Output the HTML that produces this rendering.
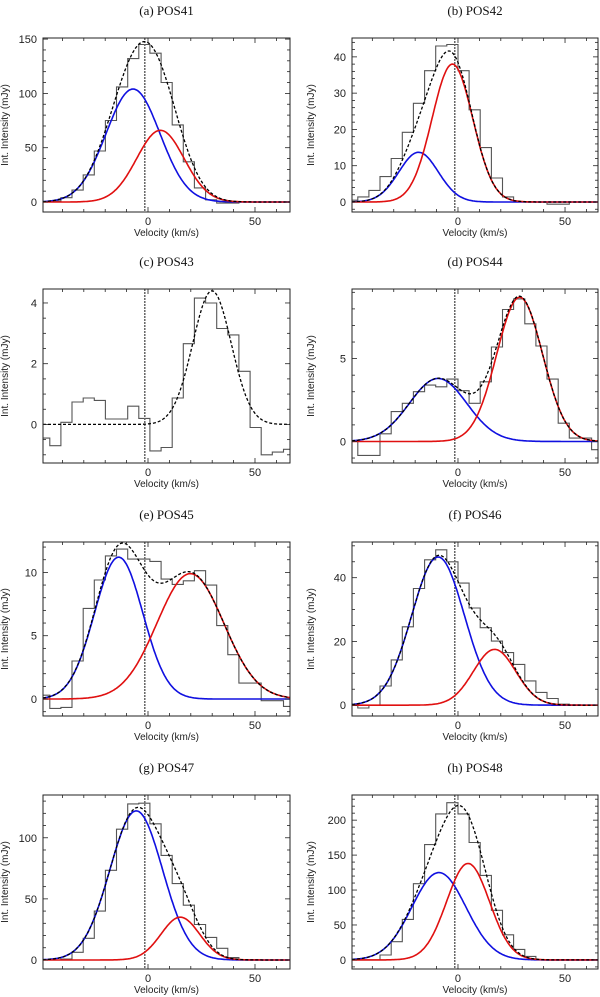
<!DOCTYPE html>
<html><head><meta charset="utf-8"><style>
body{margin:0;background:#fff;width:600px;height:997px;overflow:hidden}
svg{display:block}
.t{font-family:"Liberation Serif",serif;font-size:13px;fill:#111}
.a{font-family:"Liberation Sans",sans-serif;font-size:10px;fill:#222}
.k{font-family:"Liberation Sans",sans-serif;font-size:11px;fill:#222}
</style></head><body>
<svg id="fig" width="600" height="997" viewBox="0 0 600 997"></svg>
<script>
const panelTitles=["(a) POS41","(b) POS42","(c) POS43","(d) POS44","(e) POS45","(f) POS46","(g) POS47","(h) POS48"];
const binStart=-51.1, binWidth=5.2, rightColBinShift=-0.9;
const histA=[0,1,4,11,25,47,75,106,132,145,137,110,71,37,13,2,-1,-1,0,0,0,0,0];
const histB=[0.5,1.4,3.2,7,12,19.2,27.2,36.2,43,43.4,36.2,25.4,15,6.6,1.4,0,0,0,-0.6,-0.6,0,0,0];
const histC=[-0.45,-0.7,0.07,0.74,0.87,0.79,0.18,0.18,0.6,0.2,-0.87,-0.76,0.87,2.66,4.16,4.0,3.16,2.95,1.75,-0.1,-1.0,-0.91,-0.82];
const histD=[0,-0.84,-0.84,0.46,1.8,2.3,3.0,3.4,3.3,3.76,3.06,2.3,3.6,5.7,7.96,8.6,7.1,5.76,3.76,1.1,0.2,0.2,-0.5];
const histE=[0.3,-0.74,-0.66,3.0,7.16,9.4,11.3,11.84,11.05,11.05,10.87,9.47,9.05,9.34,10.13,9.0,5.8,3.5,1.26,1.26,-0.13,-0.13,-0.58];
const histF=[0,-0.9,0,6,14.2,24.6,36.6,45.6,48.75,45,38.3,30.5,24.3,20.1,16.5,12.8,7.6,4.0,2.1,0.3,0,0,0];
const histG=[0,0,0.8,6.3,17.7,40,73.4,107,127.7,128.3,111.4,85.6,62.5,44.8,29,18.5,9.5,1.9,0,0,0,0,0];
const histH=[0,0,0,7,26,58,109,165,209,225,209,168,121,71,36,15,5,0,0,0,0,0,0];
const blueAmp=[104,13.7,0,3.8,11.2,46.5,122,125];
const blueCen=[-7,-18.4,0,-9.3,-13.7,-9.3,-5.5,-8.9];
const blueSig=[12.6,9.2,1,13.4,11.3,12.3,12.3,12.6];
const redAmp=[66,38,4.4,8.7,9.9,17.5,35,138];
const redCen=[5.8,-2.6,29.9,28.8,19.8,17.1,15.1,4.7];
const redSig=[11.1,9.5,9.0,10.7,15.6,9.9,9.0,10.0];
const yMin=[-9.2,-2.76,-1.27,-1.3,-1.34,-3.4,-7.4,-13];
const yMax=[151,45.2,4.46,9.2,12.4,51.2,135,236];
const yMajor=[50,10,2,5,5,20,50,50];
const yMinor=[10,2,0.5,1,1,5,10,10];
const xTickVals=[0,50];
const systemicV=-1.5;
const hists=[histA,histB,histC,histD,histE,histF,histG,histH];
const NS="http://www.w3.org/2000/svg";
const svg=document.getElementById('fig');
function mk(tag,at,parent){const e=document.createElementNS(NS,tag);for(const k in at)e.setAttribute(k,at[k]);(parent||svg).appendChild(e);return e;}
const rowTop=[38,289,542,795], H=174;
for(let p=0;p<8;p++){
  const col=p%2,row=Math.floor(p/2);
  const L=col?352:43,R=col?598:290,T=rowTop[row],B=T+H;
  const xMin=col?-49.5:-49.07,xMax=col?65.4:66.36;
  const sx=v=>L+(v-xMin)/(xMax-xMin)*(R-L);
  const sy=v=>B-(v-yMin[p])/(yMax[p]-yMin[p])*H;
  const g=mk('g',{});
  
  
  const cid='clip'+p;
  const cp=mk('clipPath',{id:cid},g);mk('rect',{x:L,y:T,width:R-L,height:H},cp);
  const tt=mk('text',{x:(L+R)/2,y:T-23,'text-anchor':'middle',class:'t'},g);tt.textContent=panelTitles[p];
  
  
  const h=hists[p];let d='';
  const bs=binStart+(col?rightColBinShift:0);
  for(let i=0;i<h.length;i++){const x0=sx(bs+i*binWidth),x1=sx(bs+(i+1)*binWidth),y=sy(h[i]);d+=(i?'L':'M')+x0.toFixed(1)+','+y.toFixed(1)+'L'+x1.toFixed(1)+','+y.toFixed(1);}
  const hp=mk('path',{d:d,fill:'none',stroke:'#555',"stroke-width":1.1,'clip-path':'url(#'+cid+')'},g);
  
  
  const sl=mk('line',{x1:sx(systemicV),x2:sx(systemicV),y1:T,y2:B,stroke:'#666','stroke-width':1.5,'stroke-dasharray':'2,1'},g);
  
  
  const gauss=(a,c,s,v)=>a*Math.exp(-0.5*((v-c)/s)**2);
  const curve=f=>{let s='';for(let i=0;i<=240;i++){const v=xMin+(xMax-xMin)*i/240;s+=(i?'L':'M')+sx(v).toFixed(1)+','+sy(f(v)).toFixed(1);}return s;};
  if(p!==2){
    const bl=mk('path',{d:curve(v=>gauss(blueAmp[p],blueCen[p],blueSig[p],v)),fill:'none',stroke:'#1010e0','stroke-width':1.6,'clip-path':'url(#'+cid+')'},g);
    
    
    const rl=mk('path',{d:curve(v=>gauss(redAmp[p],redCen[p],redSig[p],v)),fill:'none',stroke:'#e01010','stroke-width':1.6,'clip-path':'url(#'+cid+')'},g);
    
    
  }
  const tl=mk('path',{d:curve(v=>gauss(blueAmp[p],blueCen[p],blueSig[p],v)+gauss(redAmp[p],redCen[p],redSig[p],v)),fill:'none',stroke:'#000','stroke-width':1.3,'stroke-dasharray':'3,2','clip-path':'url(#'+cid+')'},g);
  
  
  const fr=mk('rect',{x:L,y:T,width:R-L,height:H,fill:'none',stroke:'#222','stroke-width':1},g);
  
  
  const mn=yMinor[p];
  for(let v=Math.ceil(yMin[p]/mn)*mn;v<=yMax[p]+1e-9;v+=mn){
    const y=sy(v);const major=Math.abs(v/yMajor[p]-Math.round(v/yMajor[p]))<1e-6;const len=major?5:3;
    mk('line',{x1:L,x2:L+len,y1:y,y2:y,stroke:'#222','stroke-width':0.8},g);
    mk('line',{x1:R,x2:R-len,y1:y,y2:y,stroke:'#222','stroke-width':0.8},g);
    if(major){const lb=mk('text',{x:L-6,y:y+4,'text-anchor':'end',class:'k'},g);lb.textContent=String(Math.round(v*100)/100);
      
      }
  }
  for(let v=-40;v<=60;v+=10){const x=sx(v);const major=v%50===0;const len=major?5:3;
    mk('line',{x1:x,x2:x,y1:B,y2:B-len,stroke:'#222','stroke-width':0.8},g);
    mk('line',{x1:x,x2:x,y1:T,y2:T+len,stroke:'#222','stroke-width':0.8},g);}
  for(const v of xTickVals){const lb=mk('text',{x:sx(v),y:B+13,'text-anchor':'middle',class:'k'},g);lb.textContent=String(v);
    
    }
  const xl=mk('text',{x:(L+R)/2,y:B+24,'text-anchor':'middle',class:'a'},g);xl.textContent='Velocity (km/s)';
  
  
  const yx=col?314:8;
  const yl=mk('text',{x:yx,y:(T+B)/2,'text-anchor':'middle',class:'a',transform:'rotate(-90 '+yx+' '+(T+B)/2+')'},g);yl.textContent='Int. Intensity (mJy)';
  
  
}
</script>
</body></html>
